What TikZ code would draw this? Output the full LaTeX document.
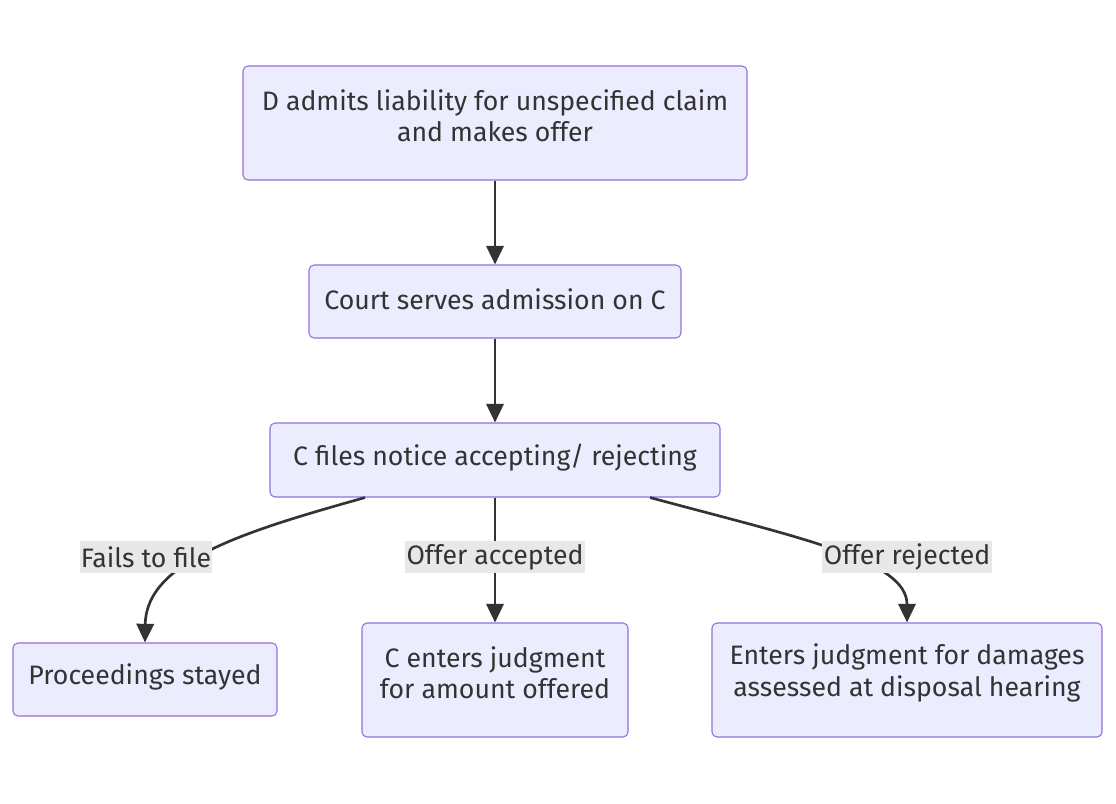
\documentclass[tikz,border=0pt]{standalone}
\usepackage{fontspec}
\setmainfont{Fira Sans}
\usetikzlibrary{arrows.meta,calc}
\definecolor{boxfill}{HTML}{ECECFF}
\definecolor{boxline}{HTML}{9370DB}
\definecolor{ink}{HTML}{333333}
\definecolor{lblbg}{HTML}{E8E8E8}
\tikzset{
  stepbox/.style={draw=boxline,fill=boxfill,line width=0.8pt,rounded corners=3.75pt,inner sep=0pt},
  boxtext/.style={text=ink,align=center,font=\fontsize{20}{23.6}\selectfont},
  edgelbl/.style={fill=lblbg,text=ink,inner sep=1pt,minimum height=24pt,font=\fontsize{20}{23.6}\selectfont},
  flow/.style={draw=ink,line width=2pt,-{Triangle[length=14pt,width=13pt]}}
}
\begin{document}
\begin{tikzpicture}[x=0.75pt,y=-0.75pt]
  \useasboundingbox[fill=white] (0,0) rectangle (1116,803);
  % boxes, pixel coordinates of the reference
  \node[stepbox,minimum width=378pt,minimum height=85.5pt] (admit) at (495,123) {};
  \node[boxtext] (admit-t) at (495,116) {D admits liability for unspecified claim\\and makes offer};
  \node[stepbox,minimum width=279pt,minimum height=54.75pt] (serve) at (495,301.5) {};
  \node[boxtext] (serve-t) at (495,299) {Court serves admission on C};
  \node[stepbox,minimum width=337.5pt,minimum height=55.5pt] (notice) at (495,460) {};
  \node[boxtext] (notice-t) at (495,458) {C files notice accepting/ rejecting};
  \node[stepbox,minimum width=198pt,minimum height=54.75pt] (stay) at (145,679.5) {};
  \node[boxtext] (stay-t) at (145,677) {Proceedings stayed};
  \node[stepbox,minimum width=199.5pt,minimum height=85.5pt] (accept) at (495,680) {};
  \node[boxtext] (accept-t) at (495,673) {C enters judgment\\for amount offered};
  \node[stepbox,minimum width=292.5pt,minimum height=85.5pt] (reject) at (907,680) {};
  \node[boxtext] (reject-t) at (907,673) {Enters judgment for damages\\assessed at disposal hearing};

  % connectors
  \draw[flow] (admit) -- (serve);
  \draw[flow] (serve) -- (notice);
  \draw[flow] ($(notice.south)+(-130,0)$) .. controls (250,530) and (146,560) .. (stay.north);
  \draw[flow] (notice.south) -- (accept.north);
  \draw[flow] ($(notice.south)+(155,0)$) .. controls (800,538) and (907,560) .. (reject.north);

  % edge labels
  \node[edgelbl] (fail-l) at (146,557) {Fails to file};
  \node[edgelbl] (acc-l) at (495,557) {Offer accepted};
  \node[edgelbl] (rej-l) at (907,557) {Offer rejected};
\end{tikzpicture}
\end{document}
